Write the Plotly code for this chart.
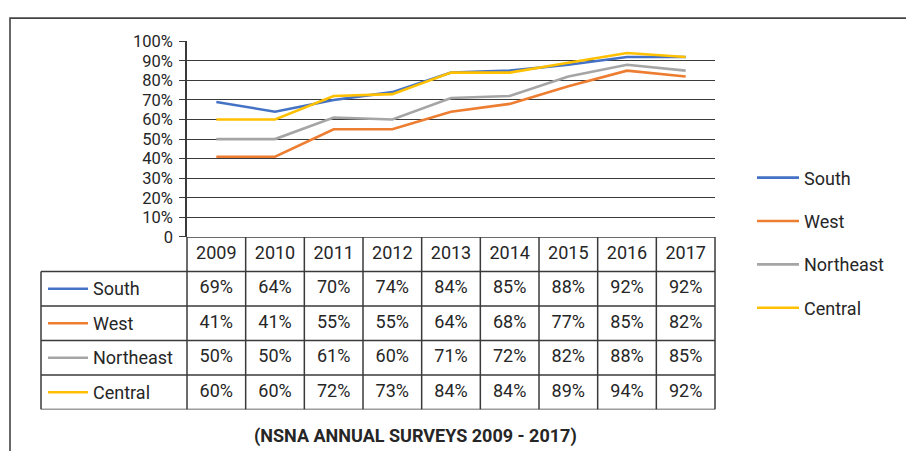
import plotly.graph_objects as go

years = [2009, 2010, 2011, 2012, 2013, 2014, 2015, 2016, 2017]
regions = ["South", "West", "Northeast", "Central"]
south = [69, 64, 70, 74, 84, 85, 88, 92, 92]
west = [41, 41, 55, 55, 64, 68, 77, 85, 82]
northeast = [50, 50, 61, 60, 71, 72, 82, 88, 85]
central = [60, 60, 72, 73, 84, 84, 89, 94, 92]
y_ticks = [0, 0.1, 0.2, 0.3, 0.4, 0.5, 0.6, 0.7, 0.8, 0.9, 1.0]
y_tick_labels = ["0", "10%", "20%", "30%", "40%", "50%", "60%", "70%", "80%", "90%", "100%"]
caption = "(NSNA ANNUAL SURVEYS 2009 - 2017)"

colors = ["#4472C4", "#ED7D31", "#A5A5A5", "#FFC000"]
series = [south, west, northeast, central]

OFF = 8  # page body margin of the exported html
W, H = 914 - 2 * OFF, 459 - 2 * OFF  # so the figure fits the window without scrolling
FONT = "Roboto, Liberation Sans, sans-serif"
TXT = "#262626"
LINE = "#3a3a3a"

# measured: vertical positions come out as 9 + 0.959 * requested
V_OFF, V_SCALE = 9.0, 0.959


def X(p):
    # screen pixel -> paper x
    return (p - OFF) / W


def Y(p):
    # screen pixel -> paper y
    q = (p - V_OFF) / V_SCALE
    return 1 - (q - OFF) / H


PLOT_L, PLOT_R = 187, 715
TABLE_L = 41

fig = go.Figure()

# chart lines
for name, vals, col in zip(regions, series, colors):
    fig.add_trace(go.Scatter(
        x=years, y=[v / 100 for v in vals], name=name, mode="lines",
        line=dict(color=col, width=2.6), legendgroup=name,
        xaxis="x", yaxis="y", hoverinfo="skip",
    ))

# data table below the plot (row 0 = header, rows 1..4 = regions)
fig.add_trace(go.Scatter(
    x=years, y=[0] * len(years), mode="text", text=[str(y) for y in years],
    textfont=dict(size=18, color=TXT, family=FONT), xaxis="x", yaxis="y2",
    showlegend=False, hoverinfo="skip", cliponaxis=False,
))
for r, vals in enumerate(series, start=1):
    fig.add_trace(go.Scatter(
        x=years, y=[r] * len(years), mode="text", text=[f"{v}%" for v in vals],
        textfont=dict(size=18, color=TXT, family=FONT), xaxis="x", yaxis="y2",
        showlegend=False, hoverinfo="skip", cliponaxis=False,
    ))

rule = dict(color=LINE, width=1.5)
shapes = []
# horizontal table rules
shapes.append(dict(type="line", xref="paper", yref="y2", x0=X(PLOT_L), x1=X(PLOT_R), y0=-0.5, y1=-0.5, line=rule))
for r in range(5):
    shapes.append(dict(type="line", xref="paper", yref="y2", x0=X(TABLE_L), x1=X(PLOT_R),
                       y0=r + 0.5, y1=r + 0.5, line=rule))
# vertical table rules
shapes.append(dict(type="line", xref="paper", yref="y2", x0=X(TABLE_L), x1=X(TABLE_L), y0=0.5, y1=4.5, line=rule))
col_w = (PLOT_R - PLOT_L) / len(years)
for k in range(len(years) + 1):
    xv = X(PLOT_L + k * col_w)
    shapes.append(dict(type="line", xref="paper", yref="y2", x0=xv, x1=xv, y0=-0.5, y1=4.5, line=rule))

# legend keys + names in the first table column
annotations = []
for r, (name, col) in enumerate(zip(regions, colors), start=1):
    shapes.append(dict(type="line", xref="paper", yref="y2", x0=X(48), x1=X(88), y0=r, y1=r,
                       line=dict(color=col, width=2.6)))
    annotations.append(dict(text=name, xref="paper", yref="y2", x=X(91), y=r, xanchor="left",
                            yanchor="middle", showarrow=False,
                            font=dict(size=18, color=TXT, family=FONT)))

# outer frame, right/bottom edges run off the figure
shapes.append(dict(type="rect", xref="paper", yref="paper", x0=X(10), x1=1.1, y0=-0.1,
                   y1=min(Y(10), 1 - 1.2 / H), line=dict(color="#444444", width=1.6)))

annotations.append(dict(text=f"<b>{caption}</b>", xref="paper", yref="paper", x=X(415), y=Y(437),
                        xanchor="center", yanchor="middle", showarrow=False,
                        font=dict(size=18, color=TXT, family=FONT)))

fig.update_layout(
    width=W, height=H,
    margin=dict(l=0, r=0, t=0, b=0),
    paper_bgcolor="white", plot_bgcolor="white",
    font=dict(family=FONT, color=TXT),
    showlegend=True,
    legend=dict(x=X(752), y=Y(243), xanchor="left", yanchor="middle",
                font=dict(size=18, color=TXT, family=FONT), tracegroupgap=17,
                itemwidth=42, bgcolor="rgba(0,0,0,0)"),
    xaxis=dict(domain=[X(PLOT_L), X(PLOT_R)], range=[2008.5, 2017.5], anchor="y",
               showgrid=False, zeroline=False, showticklabels=False, showline=False),
    yaxis=dict(domain=[Y(237), Y(41)], range=[0, 1], anchor="x",
               tickvals=y_ticks, ticktext=y_tick_labels, tickfont=dict(size=16.5, color=TXT),
               showgrid=True, gridcolor=LINE, gridwidth=1.3, zeroline=False,
               showline=True, linecolor=LINE, linewidth=1.5, ticklabelstandoff=3,
               ticks="outside", ticklen=6, tickcolor=LINE, tickwidth=1.3),
    yaxis2=dict(domain=[Y(410), Y(237)], range=[4.5, -0.5], anchor="x", visible=False),
    shapes=shapes,
    annotations=annotations,
)

fig.write_html("out.html")
